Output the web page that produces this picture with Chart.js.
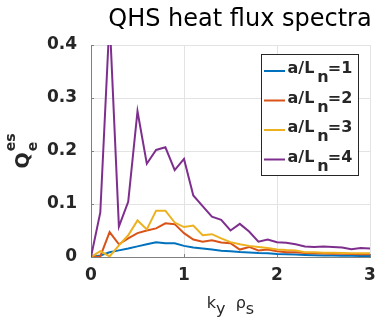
<!DOCTYPE html>
<html>
<head>
<meta charset="utf-8">
<script src="https://cdn.jsdelivr.net/npm/chart.js@4/dist/chart.umd.min.js"></script>
<style>
  html, body { margin: 0; padding: 0; background: #ffffff; }
  canvas { display: block; }
</style>
</head>
<body>
<canvas id="c" width="375" height="322"></canvas>
<script>
// ---- data ----
const chartTitle = 'QHS heat flux spectra';
const kyRho = [0, 0.1, 0.2, 0.3, 0.4, 0.5, 0.6, 0.7, 0.8, 0.9, 1.0,
               1.1, 1.2, 1.3, 1.4, 1.5, 1.6, 1.7, 1.8, 1.9, 2.0,
               2.1, 2.2, 2.3, 2.4, 2.5, 2.6, 2.7, 2.8, 2.9, 3.0];
const qAln1 = [0, 0.003, 0.009, 0.0125, 0.016, 0.02, 0.024, 0.028, 0.026, 0.026, 0.021,
               0.018, 0.016, 0.014, 0.012, 0.011, 0.0095, 0.0085, 0.0075, 0.007, 0.0055,
               0.005, 0.0045, 0.004, 0.0035, 0.003, 0.003, 0.0025, 0.0025, 0.002, 0.002];
const qAln2 = [0, 0.001, 0.047, 0.024, 0.035, 0.045, 0.05, 0.054, 0.0635, 0.062, 0.045,
               0.033, 0.029, 0.0315, 0.0275, 0.026, 0.014, 0.019, 0.0125, 0.014, 0.011,
               0.009, 0.009, 0.0075, 0.007, 0.0065, 0.006, 0.006, 0.0055, 0.005, 0.005];
const qAln3 = [0, 0.011, 0.001, 0.022, 0.041, 0.069, 0.052, 0.0875, 0.0875, 0.065, 0.0565,
               0.0595, 0.041, 0.043, 0.035, 0.028, 0.024, 0.021, 0.019, 0.017, 0.014,
               0.013, 0.0125, 0.009, 0.009, 0.008, 0.008, 0.0075, 0.007, 0.007, 0.007];
const qAln4 = [0, 0.084, 0.45, 0.0575, 0.104, 0.275, 0.176, 0.202, 0.207, 0.164, 0.185,
               0.116, 0.096, 0.076, 0.07, 0.05, 0.0625, 0.048, 0.029, 0.033, 0.028,
               0.027, 0.024, 0.02, 0.019, 0.02, 0.019, 0.018, 0.0145, 0.017, 0.016];
const seriesValues = [qAln1, qAln2, qAln3, qAln4];
const legendMain = ['a/L', 'a/L', 'a/L', 'a/L'];
const legendSub = ['n', 'n', 'n', 'n'];
const legendTail = ['=1', '=2', '=3', '=4'];
const xTicks = [0, 1, 2, 3];
const yTicks = [0, 0.1, 0.2, 0.3, 0.4];
const yTickLabels = ['0', '0.1', '0.2', '0.3', '0.4'];
const xTickLabels = ['0', '1', '2', '3'];

// ---- styling ----
const colors = ['#0072BD', '#D95319', '#EDB120', '#7E2F8E'];
const FONT = '"DejaVu Sans", "Liberation Sans", sans-serif';
const axisGray = '#808080';
const textDark = '#262626';

const datasets = seriesValues.map((vals, i) => ({
  label: legendMain[i] + legendSub[i] + legendTail[i],
  data: kyRho.map((k, j) => ({ x: k, y: vals[j] })),
  borderColor: colors[i],
  backgroundColor: colors[i],
  borderWidth: 2,
  pointRadius: 0,
  tension: 0,
  fill: false,
  order: seriesValues.length - i
}));

const decor = {
  id: 'decor',
  beforeDatasetsDraw(chart) {
    const { ctx, chartArea: a, scales: { x, y } } = chart;
    ctx.save();
    ctx.strokeStyle = axisGray;
    ctx.lineWidth = 1;
    yTicks.forEach(v => {
      const py = Math.round(y.getPixelForValue(v)) + 0.5;
      ctx.beginPath(); ctx.moveTo(a.left, py); ctx.lineTo(a.left + 3, py); ctx.stroke();
    });
    xTicks.forEach(v => {
      const px = Math.round(x.getPixelForValue(v)) + 0.5;
      ctx.beginPath(); ctx.moveTo(px, a.bottom); ctx.lineTo(px, a.bottom - 3); ctx.stroke();
    });
    ctx.restore();
  },
  afterDraw(chart) {
    const { ctx, chartArea: a } = chart;
    const cx = (a.left + a.right) / 2;
    ctx.save();

    // title
    ctx.fillStyle = '#000000';
    ctx.font = '24px ' + FONT;
    ctx.textAlign = 'center';
    ctx.textBaseline = 'alphabetic';
    ctx.fillText(chartTitle, cx + 9.5, 26);

    // x axis title: k_y rho_s
    ctx.fillStyle = textDark;
    ctx.textAlign = 'left';
    const xf = '16px ' + FONT;
    ctx.font = xf;
    const parts = [
      { t: 'k', dy: 0 }, { t: 'y', dy: 6 }, { t: '  ', dy: 0 },
      { t: 'ρ', dy: 0 }, { t: 's', dy: 6 }
    ];
    let tw = 0;
    parts.forEach(p => { tw += ctx.measureText(p.t).width; });
    let px = cx - tw / 2;
    const xb = 308;
    parts.forEach(p => { ctx.fillText(p.t, px, xb + p.dy); px += ctx.measureText(p.t).width; });

    // y axis title: Q with superscript es and subscript e (rotated)
    const cy = (a.top + a.bottom) / 2;
    ctx.save();
    ctx.font = 'bold 19px ' + FONT;
    const wQ = ctx.measureText('Q').width;
    ctx.font = 'bold 14px ' + FONT;
    const wes = ctx.measureText('es').width;
    const total = wQ + 1 + wes;
    ctx.translate(29, cy + total / 2);
    ctx.rotate(-Math.PI / 2);
    ctx.font = 'bold 19px ' + FONT;
    ctx.fillText('Q', 0, 0);
    ctx.font = 'bold 14px ' + FONT;
    ctx.fillText('es', wQ + 1, -14);
    ctx.fillText('e', wQ + 1, 8);
    ctx.restore();

    // legend
    const bx = a.right - 108.5, by = a.top + 9.5, bw = 97, bh = 121;
    ctx.fillStyle = '#ffffff';
    ctx.fillRect(bx, by, bw, bh);
    ctx.strokeStyle = textDark;
    ctx.lineWidth = 1;
    ctx.strokeRect(bx, by, bw, bh);
    const lf = 'bold 16px ' + FONT;
    ctx.font = lf;
    for (let i = 0; i < legendMain.length; i++) {
      const base = by + 18.5 + i * 29.5;
      ctx.strokeStyle = colors[i];
      ctx.lineWidth = 2;
      ctx.beginPath();
      ctx.moveTo(bx + 2.5, base - 2);
      ctx.lineTo(bx + 23.5, base - 2);
      ctx.stroke();
      ctx.fillStyle = textDark;
      let tx = bx + 26;
      ctx.fillText(legendMain[i], tx, base);
      tx += ctx.measureText(legendMain[i]).width + 3;
      ctx.fillText(legendSub[i], tx, base + 9);
      tx += ctx.measureText(legendSub[i]).width - 1;
      ctx.fillText(legendTail[i], tx, base);
    }
    ctx.restore();
  }
};

new Chart(document.getElementById('c'), {
  type: 'line',
  data: { datasets },
  options: {
    responsive: false,
    devicePixelRatio: 1,
    animation: false,
    layout: { padding: { top: 45, right: 5, left: 0, bottom: 0 } },
    plugins: { legend: { display: false }, title: { display: false }, tooltip: { enabled: false } },
    scales: {
      x: {
        type: 'linear',
        min: 0, max: 3,
        afterBuildTicks: s => { s.ticks = xTicks.map(v => ({ value: v })); },
        afterFit: s => { s.height = 65; s.paddingLeft = 0; s.paddingRight = 0; },
        grid: { color: '#e3e3e3', lineWidth: 1, drawTicks: false },
        border: { display: true, color: axisGray, width: 1 },
        ticks: {
          padding: 8,
          color: textDark,
          font: { family: FONT, size: 17, weight: 'bold' },
          maxRotation: 0,
          callback: (v) => xTickLabels[xTicks.indexOf(v)]
        }
      },
      y: {
        type: 'linear',
        min: 0, max: 0.4,
        afterBuildTicks: s => { s.ticks = yTicks.map(v => ({ value: v })); },
        afterFit: s => { s.width = 91; s.paddingTop = 0; s.paddingBottom = 0; },
        grid: { color: '#e3e3e3', lineWidth: 1, drawTicks: false },
        border: { display: true, color: axisGray, width: 1 },
        ticks: {
          padding: 14,
          color: textDark,
          font: { family: FONT, size: 17, weight: 'bold' },
          callback: (v) => yTickLabels[yTicks.indexOf(v)]
        }
      }
    }
  },
  plugins: [decor]
});
</script>
</body>
</html>
